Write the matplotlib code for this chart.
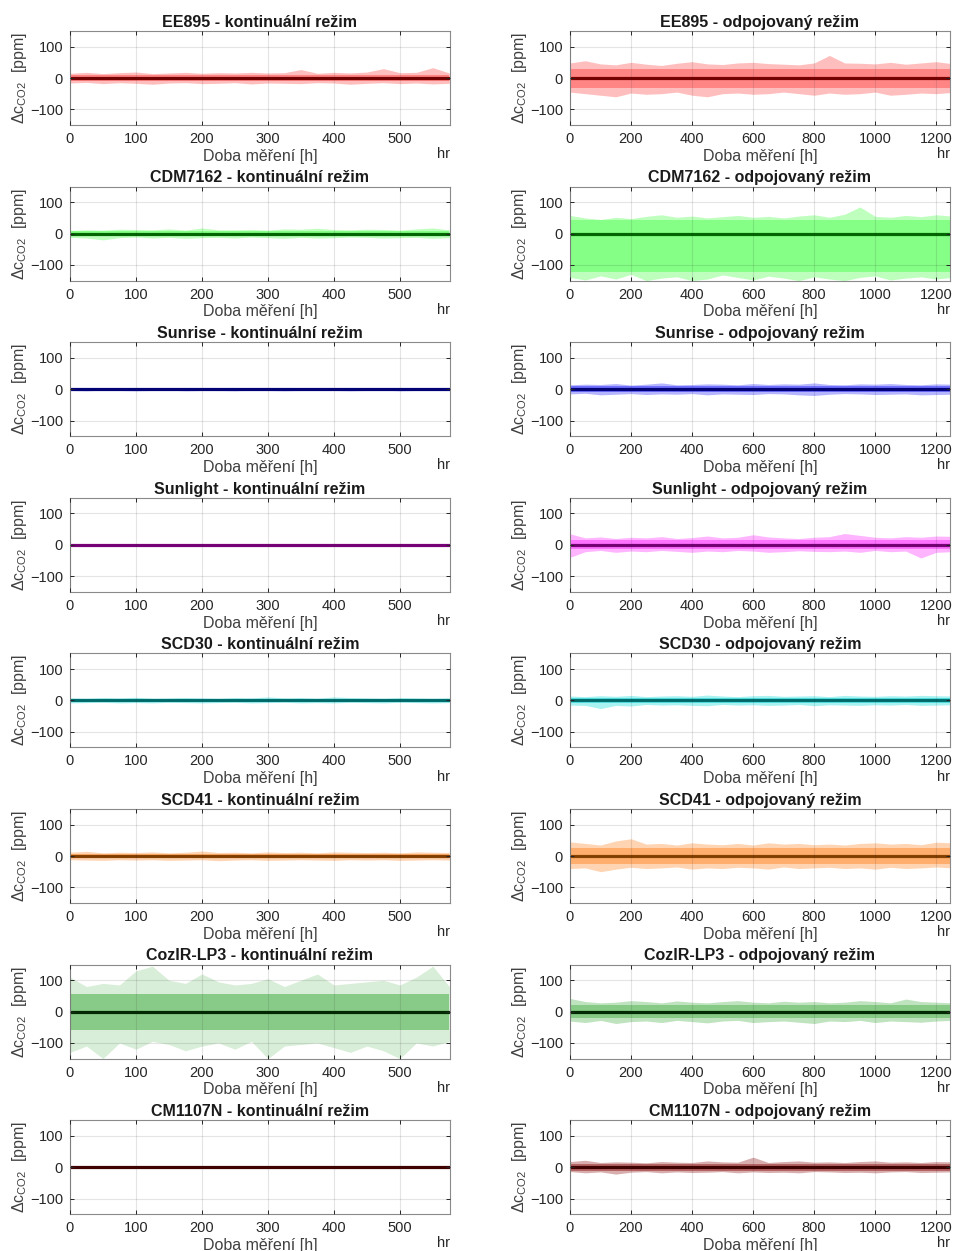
import numpy as np
import matplotlib
matplotlib.use('Agg')
import matplotlib.pyplot as plt

plt.rcParams['font.family'] = ['Liberation Sans', 'DejaVu Sans']
plt.rcParams['mathtext.fontset'] = 'custom'
plt.rcParams['mathtext.rm'] = 'Liberation Sans'
plt.rcParams['mathtext.it'] = 'Liberation Sans'

# sensors and modes
SENSORS = ['EE895', 'CDM7162', 'Sunrise', 'Sunlight', 'SCD30', 'SCD41', 'CozIR-LP3', 'CM1107N']
MODES = ['kontinuální režim', 'odpojovaný režim']
LIGHT = ['#ff7f7f', '#7fff7f', '#6a6aff', '#ff6aff', '#55e6e6', '#ffaa66', '#80c880', '#b25c5c']
DARK = ['#7a0000', '#006a00', '#00007a', '#7a007a', '#007070', '#8a4200', '#002a00', '#420000']

# sample times [h]
T_CONT = np.arange(0, 576, 25)       # 24 samples, continuous mode run
T_DISC = np.arange(0, 1251, 50)      # 26 samples, disconnected mode run
MEAN_LEVEL = 0                        # mean deviation (dark line)

# peak envelopes (ppm) - continuous mode
EE895_C_HI = [15, 18, 14, 17, 19, 14, 16, 18, 15, 17, 16, 18, 16, 17, 27, 15, 18, 16, 19, 30, 17, 18, 33, 16]
EE895_C_LO = [-16, -14, -18, -15, -17, -20, -16, -15, -18, -17, -15, -19, -16, -17, -18, -15, -16, -20, -17, -15, -18, -16, -19, -17]
CDM_C_HI = [10, 12, 11, 14, 13, 12, 15, 11, 18, 12, 12, 13, 11, 15, 14, 17, 13, 12, 14, 13, 11, 15, 18, 12]
CDM_C_LO = [-12, -14, -20, -13, -11, -14, -12, -15, -13, -12, -14, -11, -13, -15, -12, -14, -13, -11, -12, -14, -13, -12, -15, -13]
SUNRISE_C_HI = [4, 3, 5, 4, 3, 4, 5, 3, 4, 4, 3, 5, 4, 3, 4, 5, 4, 3, 4, 5, 3, 4, 4, 5]
SUNRISE_C_LO = [-4, -5, -3, -4, -5, -4, -3, -5, -4, -4, -5, -3, -4, -5, -4, -3, -4, -5, -4, -3, -5, -4, -4, -3]
SUNLIGHT_C_HI = [3, 2, 3, 3, 2, 3, 2, 3, 3, 2, 3, 3, 2, 3, 2, 3, 3, 2, 3, 2, 3, 3, 2, 3]
SUNLIGHT_C_LO = [-3, -2, -3, -2, -3, -3, -2, -3, -2, -3, -3, -2, -3, -2, -3, -3, -2, -3, -2, -3, -2, -3, -3, -2]
SCD30_C_HI = [8, 7, 9, 8, 10, 7, 8, 9, 8, 7, 9, 8, 11, 8, 9, 7, 11, 9, 8, 7, 9, 8, 7, 8]
SCD30_C_LO = [-8, -7, -6, -8, -7, -8, -6, -7, -8, -7, -6, -8, -7, -6, -8, -7, -8, -6, -7, -8, -6, -7, -8, -7]
SCD41_C_HI = [12, 15, 10, 12, 11, 13, 10, 12, 16, 11, 12, 10, 13, 11, 12, 10, 13, 12, 11, 12, 10, 13, 12, 11]
SCD41_C_LO = [-12, -13, -14, -12, -13, -12, -14, -13, -12, -15, -13, -12, -14, -13, -12, -13, -14, -12, -13, -12, -14, -13, -12, -13]
COZIR_C_HI = [110, 80, 90, 85, 130, 145, 100, 90, 120, 95, 85, 90, 105, 80, 100, 120, 85, 90, 95, 100, 85, 110, 145, 80]
COZIR_C_LO = [-130, -110, -150, -100, -120, -95, -105, -125, -110, -100, -120, -95, -150, -110, -105, -100, -115, -130, -110, -125, -150, -100, -110, -95]
CM1107N_C_HI = [4, 3, 5, 4, 5, 3, 4, 5, 4, 3, 5, 4, 3, 5, 4, 3, 5, 4, 3, 4, 5, 4, 3, 4]
CM1107N_C_LO = [-3, -4, -3, -4, -3, -4, -3, -3, -4, -3, -4, -3, -4, -3, -3, -4, -3, -4, -3, -3, -4, -3, -4, -3]

# peak envelopes (ppm) - disconnected mode
EE895_D_HI = [48, 55, 45, 42, 50, 44, 40, 47, 52, 45, 43, 48, 50, 46, 44, 42, 48, 72, 48, 47, 45, 50, 44, 48, 52, 46]
EE895_D_LO = [-45, -50, -55, -60, -48, -52, -50, -45, -55, -60, -50, -48, -52, -50, -45, -50, -55, -48, -52, -50, -45, -55, -52, -48, -50, -46]
CDM_D_HI = [58, 50, 45, 52, 48, 55, 60, 52, 56, 50, 54, 58, 52, 55, 50, 56, 60, 52, 62, 85, 55, 52, 58, 54, 60, 56]
CDM_D_LO = [-140, -148, -135, -145, -130, -150, -142, -138, -150, -145, -132, -140, -148, -136, -142, -150, -138, -145, -150, -140, -135, -148, -142, -138, -145, -140]
SUNRISE_D_HI = [14, 16, 15, 18, 13, 16, 20, 14, 15, 17, 16, 14, 18, 15, 17, 16, 20, 15, 14, 17, 16, 18, 15, 14, 17, 16]
SUNRISE_D_LO = [-15, -13, -18, -16, -14, -17, -15, -16, -14, -18, -15, -16, -17, -14, -15, -18, -20, -16, -14, -15, -17, -16, -15, -18, -17, -16]
SUNLIGHT_D_HI = [35, 22, 25, 20, 24, 22, 26, 20, 23, 28, 22, 24, 32, 25, 22, 20, 24, 26, 36, 30, 24, 22, 26, 24, 28, 27]
SUNLIGHT_D_LO = [-40, -22, -18, -24, -20, -22, -18, -21, -24, -20, -22, -18, -20, -24, -22, -19, -21, -22, -20, -24, -18, -22, -20, -42, -24, -22]
SCD30_D_HI = [14, 12, 15, 13, 16, 12, 14, 15, 13, 17, 14, 12, 15, 16, 13, 14, 15, 12, 16, 14, 13, 15, 14, 16, 15, 14]
SCD30_D_LO = [-15, -16, -26, -16, -18, -13, -15, -14, -16, -17, -13, -15, -14, -16, -15, -13, -17, -14, -15, -16, -14, -15, -13, -16, -15, -14]
SCD41_D_HI = [45, 40, 35, 48, 55, 38, 40, 35, 42, 38, 36, 40, 35, 42, 38, 40, 36, 38, 35, 40, 42, 38, 40, 36, 44, 42]
SCD41_D_LO = [-40, -38, -50, -42, -36, -40, -38, -35, -42, -38, -40, -36, -38, -42, -35, -40, -38, -36, -40, -38, -42, -36, -40, -38, -35, -38]
COZIR_D_HI = [42, 32, 28, 30, 35, 32, 28, 34, 30, 28, 32, 35, 30, 28, 33, 30, 32, 28, 30, 35, 32, 28, 40, 32, 30, 28]
COZIR_D_LO = [-30, -35, -28, -38, -32, -30, -35, -28, -32, -36, -30, -28, -35, -32, -30, -34, -38, -30, -32, -28, -35, -30, -32, -34, -30, -28]
CM1107N_D_HI = [18, 22, 15, 17, 16, 14, 18, 16, 15, 20, 17, 16, 32, 15, 18, 20, 16, 17, 15, 18, 20, 16, 17, 15, 18, 17]
CM1107N_D_LO = [-14, -18, -15, -22, -16, -14, -18, -15, -17, -16, -14, -18, -15, -17, -16, -18, -14, -15, -17, -16, -18, -15, -14, -17, -16, -15]

# dense core of the noise (ppm), (upper, lower)
CORE_CONT = [(10, -10), (7, -7), (2.5, -2.5), (2, -2), (5, -5), (7, -7), (55, -60), (2.5, -2.5)]
CORE_DISC = [(30, -32), (42, -122), (10, -10), (14, -14), (9, -9), (25, -26), (20, -22), (10, -11)]
# how dense the sparse spikes look beyond the core
SPIKE_ALPHA_CONT = [0.5, 0.5, 0.5, 0.5, 0.5, 0.5, 0.3, 0.5]
SPIKE_ALPHA_DISC = [0.5, 0.5, 0.5, 0.5, 0.5, 0.5, 0.5, 0.5]

CONT_HI = [EE895_C_HI, CDM_C_HI, SUNRISE_C_HI, SUNLIGHT_C_HI, SCD30_C_HI, SCD41_C_HI, COZIR_C_HI, CM1107N_C_HI]
CONT_LO = [EE895_C_LO, CDM_C_LO, SUNRISE_C_LO, SUNLIGHT_C_LO, SCD30_C_LO, SCD41_C_LO, COZIR_C_LO, CM1107N_C_LO]
DISC_HI = [EE895_D_HI, CDM_D_HI, SUNRISE_D_HI, SUNLIGHT_D_HI, SCD30_D_HI, SCD41_D_HI, COZIR_D_HI, CM1107N_D_HI]
DISC_LO = [EE895_D_LO, CDM_D_LO, SUNRISE_D_LO, SUNLIGHT_D_LO, SCD30_D_LO, SCD41_D_LO, COZIR_D_LO, CM1107N_D_LO]

XLIM = [576, 1245]
XTICKS = [np.arange(0, 501, 100), np.arange(0, 1201, 200)]
TXT = '#262626'

fig = plt.figure(figsize=(9.54, 12.51), dpi=100)
W, H = 954, 1251
lefts = [70, 570]
ax_w, ax_h = 380, 94
row_pitch = 155.6


def draw_panel(ax, t, hi, lo, core, spike_alpha, light, dark, xmax, xticks, title):
    ax.fill_between(t, lo, hi, color=light, alpha=spike_alpha, lw=0)
    ax.fill_between([t[0], t[-1]], [core[1]] * 2, [core[0]] * 2, color=light, alpha=0.9, lw=0)
    ax.plot([t[0], t[-1]], [MEAN_LEVEL, MEAN_LEVEL], color=dark, lw=2.3)
    ax.set_xlim(0, xmax)
    ax.set_ylim(-150, 150)
    ax.set_xticks(xticks)
    ax.set_yticks([-100, 0, 100])
    ax.grid(True, color='#262626', alpha=0.12, lw=0.8)
    ax.set_axisbelow(False)
    ax.tick_params(direction='in', length=3, width=0.7, top=True, right=True,
                   labelsize=10.5, colors=TXT, pad=5)
    for s in ax.spines.values():
        s.set_color('#8a8a8a')
        s.set_linewidth(0.8)
    ax.set_title(title, fontsize=11.5, fontweight='bold', color='#1a1a1a', pad=3)
    ax.set_xlabel('Doba měření [h]', fontsize=11.5, color='#404040', labelpad=2)
    ax.set_ylabel(r'$\Delta$c$_{\rm CO2}$  [ppm]', fontsize=11.5, color='#404040', labelpad=1)
    ax.text(1.0, -0.31, 'hr', transform=ax.transAxes, ha='right', va='center',
            fontsize=10.5, color=TXT)


for i, name in enumerate(SENSORS):
    top = 31 + i * row_pitch
    for j in range(2):
        ax = fig.add_axes([lefts[j] / W, 1 - (top + ax_h) / H, ax_w / W, ax_h / H])
        if j == 0:
            draw_panel(ax, T_CONT, CONT_HI[i], CONT_LO[i], CORE_CONT[i], SPIKE_ALPHA_CONT[i],
                       LIGHT[i], DARK[i], XLIM[0], XTICKS[0], name + ' - ' + MODES[0])
        else:
            draw_panel(ax, T_DISC, DISC_HI[i], DISC_LO[i], CORE_DISC[i], SPIKE_ALPHA_DISC[i],
                       LIGHT[i], DARK[i], XLIM[1], XTICKS[1], name + ' - ' + MODES[1])

fig.savefig('out.png', dpi=100)
